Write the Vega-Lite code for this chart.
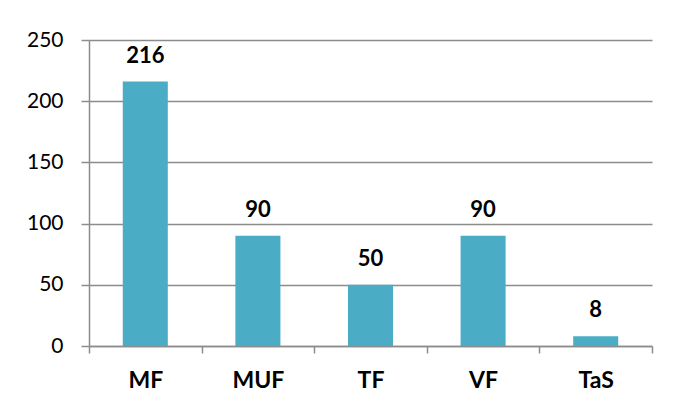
{
  "$schema": "https://vega.github.io/schema/vega-lite/v6.json",
  "width": 563,
  "height": 306,
  "autosize": {"type": "none"},
  "padding": {"left": 89, "top": 40, "right": 22, "bottom": 61},
  "background": "white",
  "config": {"view": {"stroke": null}, "font": "Lato"},
  "data": {"values": [
    {"cat": "MF", "value": 216},
    {"cat": "MUF", "value": 90},
    {"cat": "TF", "value": 50},
    {"cat": "VF", "value": 90},
    {"cat": "TaS", "value": 8}
  ]},
  "encoding": {
    "x": {"field": "cat", "type": "nominal", "sort": null,
      "scale": {"paddingInner": 0, "paddingOuter": 0},
      "axis": {"title": null, "labelAngle": 0, "labelFont": "Lato", "labelFontSize": 23, "labelFontWeight": "bold", "labelColor": "black",
        "tickBand": "extent", "tickSize": 7, "tickColor": "#8c8c8c", "domainColor": "#8c8c8c", "tickWidth": 1.5, "domainWidth": 1.5, "labelPadding": 16}},
    "y": {"field": "value", "type": "quantitative",
      "scale": {"domain": [0, 250]},
      "axis": {"title": null, "values": [0, 50, 100, 150, 200, 250], "labelFont": "Lato", "labelFontSize": 21, "labelColor": "black",
        "tickSize": 8, "tickColor": "#8c8c8c", "domain": true, "domainColor": "#8c8c8c", "domainWidth": 1.5, "gridColor": "#8c8c8c", "gridWidth": 1.5, "tickWidth": 1.5, "labelPadding": 18}}
  },
  "layer": [
    {"mark": {"type": "bar", "color": "#4BACC6", "width": {"band": 0.4}}},
    {"mark": {"type": "text", "baseline": "alphabetic", "dy": -19, "fontSize": 22, "fontWeight": "bold", "color": "black", "font": "Lato"},
     "encoding": {"text": {"field": "value", "type": "quantitative"}}}
  ]
}
